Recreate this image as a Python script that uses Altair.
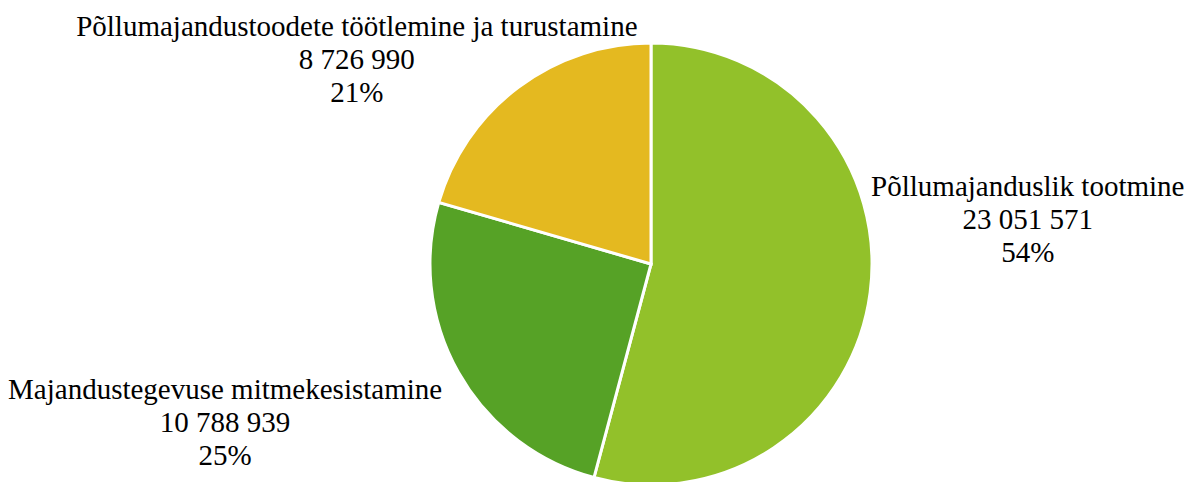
import altair as alt
import pandas as pd

categories = [
    "Põllumajanduslik tootmine",
    "Majandustegevuse mitmekesistamine",
    "Põllumajandustoodete töötlemine ja turustamine",
]
values = [23051571, 10788939, 8726990]
percents = [54, 25, 21]
colors = ["#92C12A", "#56A226", "#E4B920"]


def fmt(v):
    return f"{v:,}".replace(",", " ")


df = pd.DataFrame({
    "cat": categories,
    "value": values,
    "order": list(range(len(categories))),
    "label": [f"{c}\n{fmt(v)}\n{p}%" for c, v, p in zip(categories, values, percents)],
})

CX, CY, R = 643, 256, 221

base = alt.Chart(df).encode(
    theta=alt.Theta("value:Q", stack=True),
    order=alt.Order("order:Q"),
)

pie = base.mark_arc(outerRadius=R, stroke="white", strokeWidth=3).encode(
    color=alt.Color("cat:N", scale=alt.Scale(domain=categories, range=colors), legend=None),
    x=alt.value(CX),
    y=alt.value(CY),
)

# label placement: radius along slice mid-angle plus a small offset (style only)
label_style = {
    categories[0]: (380, 0, -126),
    categories[1]: (489, 0, -114),
    categories[2]: (360, -78, 51),
}

layers = [pie]
for cat, (rad, dx, dy) in label_style.items():
    layers.append(
        base.mark_text(
            radius=rad, dx=dx, dy=dy, lineBreak="\n", lineHeight=33,
            font="Liberation Serif", fontSize=29, color="#000000",
            align="center", baseline="middle",
        ).encode(
            text=alt.condition(f"datum.cat == '{cat}'", alt.Text("label:N"), alt.value("")),
            x=alt.value(CX),
            y=alt.value(CY),
        )
    )

chart = alt.layer(*layers).properties(
    width=1178, height=474, padding=0,
    autosize=alt.AutoSizeParams(type="none"),
).configure_view(stroke=None)

chart.save("out.html", embed_options={"renderer": "svg", "actions": False})
